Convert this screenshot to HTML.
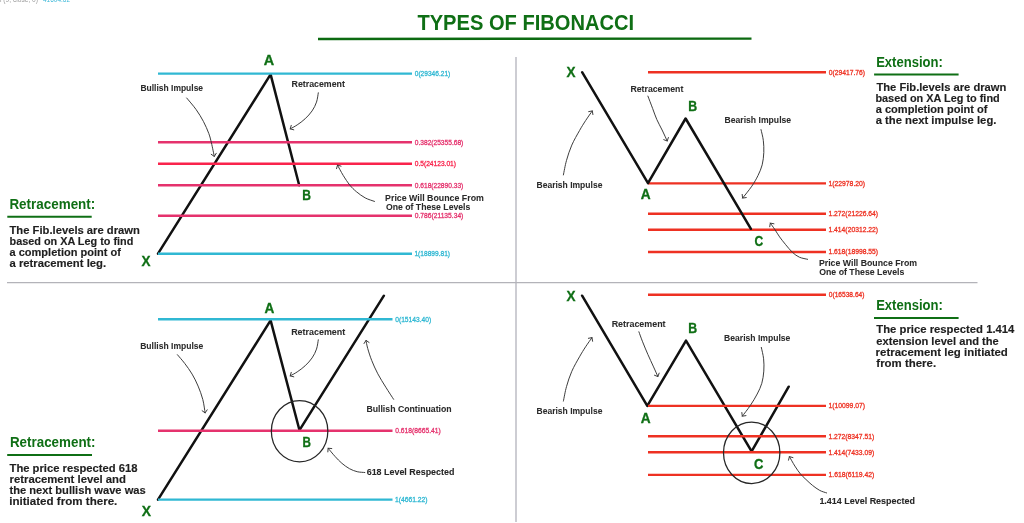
<!DOCTYPE html>
<html><head><meta charset="utf-8"><title>Types of Fibonacci</title>
<style>
html,body{margin:0;padding:0;background:#fff;width:1024px;height:523px;overflow:hidden;}
svg{display:block;font-family:"Liberation Sans", sans-serif;will-change:transform;}
</style></head>
<body>
<svg width="1024" height="523" viewBox="0 0 1024 523">
<rect width="1024" height="523" fill="#ffffff"/>
<text x="0" y="1.8" font-size="8" fill="#9a9a9a" textLength="38" lengthAdjust="spacingAndGlyphs">l (9, close, 0)</text>
<text x="43" y="1.8" font-size="8" fill="#3cb8d8" textLength="27" lengthAdjust="spacingAndGlyphs">41604.62</text>
<text id="title" x="417.40" y="29.9" font-size="22.6" fill="#0f6f15" font-weight="bold" textLength="216.70" lengthAdjust="spacingAndGlyphs">TYPES OF FIBONACCI</text>
<line x1="318" y1="39.0" x2="751.5" y2="38.6" stroke="#0c6a11" stroke-width="2.4" stroke-linecap="butt"/>
<line x1="516" y1="57" x2="516" y2="522" stroke="#cdcdd3" stroke-width="2" stroke-linecap="butt"/>
<line x1="7" y1="282.6" x2="977.5" y2="282.6" stroke="#b3b3b9" stroke-width="1.3" stroke-linecap="butt"/>
<polyline points="158,253.6 270.6,74.4 299.2,185.2" fill="none" stroke="#111111" stroke-width="2.5" stroke-linejoin="round" stroke-linecap="round"/>
<line x1="158" y1="73.6" x2="412" y2="73.6" stroke="#30b8d3" stroke-width="2.4" stroke-linecap="butt"/>
<text id="q1l0" x="414.76" y="75.9" font-size="7.2" fill="#30b8d3" font-weight="normal" stroke="#30b8d3" stroke-width="0.3" textLength="35.52" lengthAdjust="spacingAndGlyphs">0(29346.21)</text>
<line x1="158" y1="142.3" x2="412" y2="142.3" stroke="#e5326d" stroke-width="2.4" stroke-linecap="butt"/>
<text id="q1l1" x="414.76" y="144.6" font-size="7.2" fill="#e5326d" font-weight="normal" stroke="#e5326d" stroke-width="0.3" textLength="48.58" lengthAdjust="spacingAndGlyphs">0.382(25355.68)</text>
<line x1="158" y1="163.75" x2="412" y2="163.75" stroke="#f9234c" stroke-width="2.4" stroke-linecap="butt"/>
<text id="q1l2" x="414.76" y="166.05" font-size="7.2" fill="#f9234c" font-weight="normal" stroke="#f9234c" stroke-width="0.3" textLength="41.26" lengthAdjust="spacingAndGlyphs">0.5(24123.01)</text>
<line x1="158" y1="185.2" x2="412" y2="185.2" stroke="#e5326d" stroke-width="2.4" stroke-linecap="butt"/>
<text id="q1l3" x="414.76" y="187.5" font-size="7.2" fill="#e5326d" font-weight="normal" stroke="#e5326d" stroke-width="0.3" textLength="48.58" lengthAdjust="spacingAndGlyphs">0.618(22890.33)</text>
<line x1="158" y1="215.7" x2="412" y2="215.7" stroke="#e5326d" stroke-width="2.4" stroke-linecap="butt"/>
<text id="q1l4" x="414.76" y="218.0" font-size="7.2" fill="#e5326d" font-weight="normal" stroke="#e5326d" stroke-width="0.3" textLength="48.58" lengthAdjust="spacingAndGlyphs">0.786(21135.34)</text>
<line x1="158" y1="253.7" x2="412" y2="253.7" stroke="#30b8d3" stroke-width="2.4" stroke-linecap="butt"/>
<text id="q1l5" x="414.46" y="256.0" font-size="7.2" fill="#30b8d3" font-weight="normal" stroke="#30b8d3" stroke-width="0.3" textLength="35.56" lengthAdjust="spacingAndGlyphs">1(18899.81)</text>
<text id="q1A" x="263.70" y="64.6" font-size="15.3" fill="#0f6f15" font-weight="bold" stroke="#0f6f15" stroke-width="0.35" textLength="10.40" lengthAdjust="spacingAndGlyphs">A</text>
<text id="q1B" x="302.14" y="200.4" font-size="15.3" fill="#0f6f15" font-weight="bold" stroke="#0f6f15" stroke-width="0.35" textLength="8.70" lengthAdjust="spacingAndGlyphs">B</text>
<text id="q1X" x="141.40" y="266" font-size="15.3" fill="#0f6f15" font-weight="bold" stroke="#0f6f15" stroke-width="0.35" textLength="9.00" lengthAdjust="spacingAndGlyphs">X</text>
<text id="q1bi" x="140.40" y="91.4" font-size="9.2" fill="#2b2b2b" font-weight="bold" stroke="#2b2b2b" stroke-width="0.05" textLength="62.70" lengthAdjust="spacingAndGlyphs">Bullish Impulse</text>
<text id="q1re" x="291.52" y="87.3" font-size="9.2" fill="#2b2b2b" font-weight="bold" stroke="#2b2b2b" stroke-width="0.05" textLength="53.44" lengthAdjust="spacingAndGlyphs">Retracement</text>
<text id="q1p1" x="385.08" y="201" font-size="9.2" fill="#2b2b2b" font-weight="bold" stroke="#2b2b2b" stroke-width="0.05" textLength="98.82" lengthAdjust="spacingAndGlyphs">Price Will Bounce From</text>
<text id="q1p2" x="385.98" y="209.8" font-size="9.2" fill="#2b2b2b" font-weight="bold" stroke="#2b2b2b" stroke-width="0.05" textLength="84.38" lengthAdjust="spacingAndGlyphs">One of These Levels</text>
<path d="M186.70,98.00 C188.25,99.90 193.22,105.50 196.00,109.40 C198.78,113.30 201.27,117.38 203.40,121.40 C205.53,125.42 207.47,129.93 208.80,133.50 C210.13,137.07 210.48,138.98 211.40,142.80 C212.32,146.62 213.82,154.13 214.30,156.40" fill="none" stroke="#333333" stroke-width="0.95" stroke-linecap="round"/>
<polyline points="216.26,153.26 214.3,156.4 211.23,154.33" fill="none" stroke="#333333" stroke-width="0.95" stroke-linecap="round" stroke-linejoin="round"/>
<path d="M318.30,92.80 C318.00,94.35 317.53,99.08 316.50,102.10 C315.47,105.12 314.00,108.12 312.10,110.90 C310.20,113.68 307.58,116.47 305.10,118.80 C302.62,121.13 299.68,123.22 297.20,124.90 C294.72,126.58 291.37,128.23 290.20,128.90" fill="none" stroke="#333333" stroke-width="0.95" stroke-linecap="round"/>
<polyline points="293.79,129.81 290.2,128.9 291.24,125.35" fill="none" stroke="#333333" stroke-width="0.95" stroke-linecap="round" stroke-linejoin="round"/>
<path d="M374.50,201.40 C372.95,200.82 368.22,199.52 365.20,197.90 C362.18,196.28 358.97,193.83 356.40,191.70 C353.83,189.57 352.00,187.82 349.80,185.10 C347.60,182.38 345.25,178.73 343.20,175.40 C341.15,172.07 338.45,166.82 337.50,165.10" fill="none" stroke="#333333" stroke-width="0.95" stroke-linecap="round"/>
<polyline points="336.54,168.67 337.5,165.1 341.04,166.18" fill="none" stroke="#333333" stroke-width="0.95" stroke-linecap="round" stroke-linejoin="round"/>
<text id="q1h" x="9.40" y="209" font-size="13.8" fill="#0f6f15" font-weight="bold" textLength="85.88" lengthAdjust="spacingAndGlyphs">Retracement:</text>
<line x1="7.3" y1="216.8" x2="91.7" y2="216.8" stroke="#0f6f15" stroke-width="2" stroke-linecap="butt"/>
<text id="q1b0" x="9.52" y="233.7" font-size="11" fill="#1f1f1f" font-weight="bold" stroke="#1f1f1f" stroke-width="0.15" textLength="130.38" lengthAdjust="spacingAndGlyphs">The Fib.levels are drawn</text>
<text id="q1b1" x="9.52" y="244.7" font-size="11" fill="#1f1f1f" font-weight="bold" stroke="#1f1f1f" stroke-width="0.15" textLength="123.76" lengthAdjust="spacingAndGlyphs">based on XA Leg to find</text>
<text id="q1b2" x="9.52" y="255.7" font-size="11" fill="#1f1f1f" font-weight="bold" stroke="#1f1f1f" stroke-width="0.15" textLength="111.38" lengthAdjust="spacingAndGlyphs">a completion point of</text>
<text id="q1b3" x="9.52" y="266.7" font-size="11" fill="#1f1f1f" font-weight="bold" stroke="#1f1f1f" stroke-width="0.15" textLength="96.56" lengthAdjust="spacingAndGlyphs">a retracement leg.</text>
<line x1="648" y1="72.2" x2="826" y2="72.2" stroke="#ee3122" stroke-width="2.4" stroke-linecap="butt"/>
<text id="q2l0" x="828.76" y="74.5" font-size="7.2" fill="#ee3122" font-weight="normal" stroke="#ee3122" stroke-width="0.3" textLength="36.34" lengthAdjust="spacingAndGlyphs">0(29417.76)</text>
<line x1="648" y1="183.4" x2="826" y2="183.4" stroke="#ee3122" stroke-width="2.4" stroke-linecap="butt"/>
<text id="q2l1" x="828.46" y="185.7" font-size="7.2" fill="#ee3122" font-weight="normal" stroke="#ee3122" stroke-width="0.3" textLength="36.64" lengthAdjust="spacingAndGlyphs">1(22978.20)</text>
<line x1="648" y1="213.8" x2="826" y2="213.8" stroke="#ee3122" stroke-width="2.4" stroke-linecap="butt"/>
<text id="q2l2" x="828.46" y="216.1" font-size="7.2" fill="#ee3122" font-weight="normal" stroke="#ee3122" stroke-width="0.3" textLength="49.64" lengthAdjust="spacingAndGlyphs">1.272(21226.64)</text>
<line x1="648" y1="229.8" x2="826" y2="229.8" stroke="#ee3122" stroke-width="2.4" stroke-linecap="butt"/>
<text id="q2l3" x="828.46" y="232.1" font-size="7.2" fill="#ee3122" font-weight="normal" stroke="#ee3122" stroke-width="0.3" textLength="49.64" lengthAdjust="spacingAndGlyphs">1.414(20312.22)</text>
<line x1="648" y1="252.0" x2="826" y2="252.0" stroke="#ee3122" stroke-width="2.4" stroke-linecap="butt"/>
<text id="q2l4" x="828.46" y="254.3" font-size="7.2" fill="#ee3122" font-weight="normal" stroke="#ee3122" stroke-width="0.3" textLength="49.64" lengthAdjust="spacingAndGlyphs">1.618(18998.55)</text>
<polyline points="582.1,72.2 648,183.2 685.6,118.5 750.9,228.8" fill="none" stroke="#111111" stroke-width="2.5" stroke-linejoin="round" stroke-linecap="round"/>
<text id="q2X" x="566.40" y="76.5" font-size="15.3" fill="#0f6f15" font-weight="bold" stroke="#0f6f15" stroke-width="0.35" textLength="9.02" lengthAdjust="spacingAndGlyphs">X</text>
<text id="q2A" x="640.70" y="199" font-size="15.3" fill="#0f6f15" font-weight="bold" stroke="#0f6f15" stroke-width="0.35" textLength="9.90" lengthAdjust="spacingAndGlyphs">A</text>
<text id="q2B" x="688.28" y="110.7" font-size="15.3" fill="#0f6f15" font-weight="bold" stroke="#0f6f15" stroke-width="0.35" textLength="8.88" lengthAdjust="spacingAndGlyphs">B</text>
<text id="q2C" x="754.60" y="246" font-size="15.3" fill="#0f6f15" font-weight="bold" stroke="#0f6f15" stroke-width="0.35" textLength="8.68" lengthAdjust="spacingAndGlyphs">C</text>
<text id="q2re" x="630.40" y="91.7" font-size="9.2" fill="#2b2b2b" font-weight="bold" stroke="#2b2b2b" stroke-width="0.05" textLength="53.00" lengthAdjust="spacingAndGlyphs">Retracement</text>
<text id="q2bl" x="536.52" y="187.9" font-size="9.2" fill="#2b2b2b" font-weight="bold" stroke="#2b2b2b" stroke-width="0.05" textLength="65.88" lengthAdjust="spacingAndGlyphs">Bearish Impulse</text>
<text id="q2br" x="724.46" y="122.9" font-size="9.2" fill="#2b2b2b" font-weight="bold" stroke="#2b2b2b" stroke-width="0.05" textLength="66.70" lengthAdjust="spacingAndGlyphs">Bearish Impulse</text>
<text id="q2p1" x="818.90" y="266.4" font-size="9.2" fill="#2b2b2b" font-weight="bold" stroke="#2b2b2b" stroke-width="0.05" textLength="98.26" lengthAdjust="spacingAndGlyphs">Price Will Bounce From</text>
<text id="q2p2" x="819.20" y="274.7" font-size="9.2" fill="#2b2b2b" font-weight="bold" stroke="#2b2b2b" stroke-width="0.05" textLength="85.20" lengthAdjust="spacingAndGlyphs">One of These Levels</text>
<path d="M647.90,96.10 C648.68,98.15 651.12,104.50 652.60,108.40 C654.08,112.30 655.22,115.90 656.80,119.50 C658.38,123.10 660.37,126.42 662.10,130.00 C663.83,133.58 666.35,139.17 667.20,141.00" fill="none" stroke="#333333" stroke-width="0.95" stroke-linecap="round"/>
<polyline points="668.41,137.50 667.2,141 663.75,139.67" fill="none" stroke="#333333" stroke-width="0.95" stroke-linecap="round" stroke-linejoin="round"/>
<path d="M563.40,174.90 C563.92,172.48 565.10,165.37 566.50,160.40 C567.90,155.43 569.63,150.07 571.80,145.10 C573.97,140.13 577.20,134.68 579.50,130.60 C581.80,126.52 583.47,123.88 585.60,120.60 C587.73,117.32 591.18,112.52 592.30,110.90" fill="none" stroke="#333333" stroke-width="0.95" stroke-linecap="round"/>
<polyline points="588.67,111.63 592.3,110.9 592.90,114.55" fill="none" stroke="#333333" stroke-width="0.95" stroke-linecap="round" stroke-linejoin="round"/>
<path d="M761.00,129.60 C761.38,131.38 762.83,136.48 763.30,140.30 C763.77,144.12 763.98,148.42 763.80,152.50 C763.62,156.58 763.17,160.97 762.20,164.80 C761.23,168.63 759.73,171.93 758.00,175.50 C756.27,179.07 754.37,182.43 751.80,186.20 C749.23,189.97 744.13,196.12 742.60,198.10" fill="none" stroke="#333333" stroke-width="0.95" stroke-linecap="round"/>
<polyline points="746.26,197.57 742.6,198.1 742.19,194.42" fill="none" stroke="#333333" stroke-width="0.95" stroke-linecap="round" stroke-linejoin="round"/>
<path d="M807.60,259.30 C806.23,258.95 801.92,258.35 799.40,257.20 C796.88,256.05 794.78,254.48 792.50,252.40 C790.22,250.32 787.85,247.28 785.70,244.70 C783.55,242.12 781.40,239.42 779.60,236.90 C777.80,234.38 776.45,231.90 774.90,229.60 C773.35,227.30 771.07,224.18 770.30,223.10" fill="none" stroke="#333333" stroke-width="0.95" stroke-linecap="round"/>
<polyline points="769.74,226.76 770.3,223.1 773.94,223.79" fill="none" stroke="#333333" stroke-width="0.95" stroke-linecap="round" stroke-linejoin="round"/>
<text id="q2h" x="876.14" y="66.5" font-size="13.8" fill="#0f6f15" font-weight="bold" textLength="66.70" lengthAdjust="spacingAndGlyphs">Extension:</text>
<line x1="874.1" y1="74.6" x2="958.6" y2="74.6" stroke="#0f6f15" stroke-width="2" stroke-linecap="butt"/>
<text id="q2b0" x="876.40" y="90.8" font-size="11" fill="#1f1f1f" font-weight="bold" stroke="#1f1f1f" stroke-width="0.15" textLength="129.94" lengthAdjust="spacingAndGlyphs">The Fib.levels are drawn</text>
<text id="q2b1" x="875.40" y="101.9" font-size="11" fill="#1f1f1f" font-weight="bold" stroke="#1f1f1f" stroke-width="0.15" textLength="124.32" lengthAdjust="spacingAndGlyphs">based on XA Leg to find</text>
<text id="q2b2" x="875.70" y="113.0" font-size="11" fill="#1f1f1f" font-weight="bold" stroke="#1f1f1f" stroke-width="0.15" textLength="111.76" lengthAdjust="spacingAndGlyphs">a completion point of</text>
<text id="q2b3" x="875.70" y="124.1" font-size="11" fill="#1f1f1f" font-weight="bold" stroke="#1f1f1f" stroke-width="0.15" textLength="120.70" lengthAdjust="spacingAndGlyphs">a the next impulse leg.</text>
<polyline points="158,499.6 270.6,320.4 299.5,430.2 383.9,295.7" fill="none" stroke="#111111" stroke-width="2.5" stroke-linejoin="round" stroke-linecap="round"/>
<line x1="158" y1="319.3" x2="392.5" y2="319.3" stroke="#30b8d3" stroke-width="2.4" stroke-linecap="butt"/>
<text id="q3l0" x="395.26" y="321.6" font-size="7.2" fill="#30b8d3" font-weight="normal" stroke="#30b8d3" stroke-width="0.3" textLength="35.84" lengthAdjust="spacingAndGlyphs">0(15143.40)</text>
<line x1="158" y1="430.8" x2="392.5" y2="430.8" stroke="#e5326d" stroke-width="2.4" stroke-linecap="butt"/>
<text id="q3l1" x="395.26" y="433.1" font-size="7.2" fill="#e5326d" font-weight="normal" stroke="#e5326d" stroke-width="0.3" textLength="45.52" lengthAdjust="spacingAndGlyphs">0.618(8665.41)</text>
<line x1="158" y1="499.6" x2="392.5" y2="499.6" stroke="#30b8d3" stroke-width="2.4" stroke-linecap="butt"/>
<text id="q3l2" x="394.96" y="501.9" font-size="7.2" fill="#30b8d3" font-weight="normal" stroke="#30b8d3" stroke-width="0.3" textLength="32.64" lengthAdjust="spacingAndGlyphs">1(4661.22)</text>
<text id="q3A" x="264.58" y="312.9" font-size="15.3" fill="#0f6f15" font-weight="bold" stroke="#0f6f15" stroke-width="0.35" textLength="9.82" lengthAdjust="spacingAndGlyphs">A</text>
<text id="q3B" x="302.46" y="446.6" font-size="15.3" fill="#0f6f15" font-weight="bold" stroke="#0f6f15" stroke-width="0.35" textLength="8.44" lengthAdjust="spacingAndGlyphs">B</text>
<text id="q3X" x="141.84" y="516.2" font-size="15.3" fill="#0f6f15" font-weight="bold" stroke="#0f6f15" stroke-width="0.35" textLength="9.26" lengthAdjust="spacingAndGlyphs">X</text>
<text id="q3bi" x="140.14" y="348.6" font-size="9.2" fill="#2b2b2b" font-weight="bold" stroke="#2b2b2b" stroke-width="0.05" textLength="63.20" lengthAdjust="spacingAndGlyphs">Bullish Impulse</text>
<text id="q3re" x="291.14" y="334.5" font-size="9.2" fill="#2b2b2b" font-weight="bold" stroke="#2b2b2b" stroke-width="0.05" textLength="54.14" lengthAdjust="spacingAndGlyphs">Retracement</text>
<text id="q3bc" x="366.40" y="412.3" font-size="9.2" fill="#2b2b2b" font-weight="bold" stroke="#2b2b2b" stroke-width="0.05" textLength="85.26" lengthAdjust="spacingAndGlyphs">Bullish Continuation</text>
<text id="q3lr" x="366.70" y="475.4" font-size="9.9" fill="#262626" font-weight="bold" stroke="#262626" stroke-width="0.08" textLength="87.70" lengthAdjust="spacingAndGlyphs">618 Level Respected</text>
<ellipse cx="299.6" cy="431.15" rx="28.25" ry="30.65" fill="none" stroke="#262626" stroke-width="1.25"/>
<path d="M177.40,354.70 C178.62,356.15 182.25,360.17 184.70,363.40 C187.15,366.63 189.87,370.32 192.10,374.10 C194.33,377.88 196.32,381.87 198.10,386.10 C199.88,390.33 201.63,395.03 202.80,399.50 C203.97,403.97 204.72,410.67 205.10,412.90" fill="none" stroke="#333333" stroke-width="0.95" stroke-linecap="round"/>
<polyline points="207.18,409.84 205.1,412.9 202.12,410.71" fill="none" stroke="#333333" stroke-width="0.95" stroke-linecap="round" stroke-linejoin="round"/>
<path d="M318.30,339.80 C318.00,341.35 317.53,346.08 316.50,349.10 C315.47,352.12 314.00,355.12 312.10,357.90 C310.20,360.68 307.58,363.47 305.10,365.80 C302.62,368.13 299.68,370.22 297.20,371.90 C294.72,373.58 291.37,375.23 290.20,375.90" fill="none" stroke="#333333" stroke-width="0.95" stroke-linecap="round"/>
<polyline points="293.79,376.81 290.2,375.9 291.24,372.35" fill="none" stroke="#333333" stroke-width="0.95" stroke-linecap="round" stroke-linejoin="round"/>
<path d="M393.60,399.30 C392.30,397.28 388.43,391.45 385.80,387.20 C383.17,382.95 380.15,378.27 377.80,373.80 C375.45,369.33 373.38,364.63 371.70,360.40 C370.02,356.17 368.65,351.73 367.70,348.40 C366.75,345.07 366.28,341.73 366.00,340.40" fill="none" stroke="#333333" stroke-width="0.95" stroke-linecap="round"/>
<polyline points="364.04,343.54 366,340.4 369.07,342.47" fill="none" stroke="#333333" stroke-width="0.95" stroke-linecap="round" stroke-linejoin="round"/>
<path d="M364.80,472.50 C363.53,472.37 359.75,472.33 357.20,471.70 C354.65,471.07 352.05,470.10 349.50,468.70 C346.95,467.30 344.32,465.35 341.90,463.30 C339.48,461.25 337.30,458.92 335.00,456.40 C332.70,453.88 329.25,449.57 328.10,448.20" fill="none" stroke="#333333" stroke-width="0.95" stroke-linecap="round"/>
<polyline points="327.85,451.89 328.1,448.2 331.78,448.58" fill="none" stroke="#333333" stroke-width="0.95" stroke-linecap="round" stroke-linejoin="round"/>
<text id="q3h" x="9.96" y="446.5" font-size="13.8" fill="#0f6f15" font-weight="bold" textLength="85.56" lengthAdjust="spacingAndGlyphs">Retracement:</text>
<line x1="7.2" y1="455.1" x2="92" y2="455.1" stroke="#0f6f15" stroke-width="2" stroke-linecap="butt"/>
<text id="q3b0" x="9.52" y="471.7" font-size="11" fill="#1f1f1f" font-weight="bold" stroke="#1f1f1f" stroke-width="0.15" textLength="128.00" lengthAdjust="spacingAndGlyphs">The price respected 618</text>
<text id="q3b1" x="9.52" y="482.7" font-size="11" fill="#1f1f1f" font-weight="bold" stroke="#1f1f1f" stroke-width="0.15" textLength="116.44" lengthAdjust="spacingAndGlyphs">retracement level and</text>
<text id="q3b2" x="9.52" y="493.7" font-size="11" fill="#1f1f1f" font-weight="bold" stroke="#1f1f1f" stroke-width="0.15" textLength="136.20" lengthAdjust="spacingAndGlyphs">the next bullish wave was</text>
<text id="q3b3" x="9.22" y="504.7" font-size="11" fill="#1f1f1f" font-weight="bold" stroke="#1f1f1f" stroke-width="0.15" textLength="108.12" lengthAdjust="spacingAndGlyphs">initiated from there.</text>
<polyline points="582.1,295.7 647.3,405.9 686,340.6 751.6,451.4 788.7,386.7" fill="none" stroke="#111111" stroke-width="2.5" stroke-linejoin="round" stroke-linecap="round"/>
<line x1="648" y1="294.8" x2="826" y2="294.8" stroke="#ee3122" stroke-width="2.4" stroke-linecap="butt"/>
<text id="q4l0" x="828.76" y="297.1" font-size="7.2" fill="#ee3122" font-weight="normal" stroke="#ee3122" stroke-width="0.3" textLength="35.70" lengthAdjust="spacingAndGlyphs">0(16538.64)</text>
<line x1="648" y1="405.9" x2="826" y2="405.9" stroke="#ee3122" stroke-width="2.4" stroke-linecap="butt"/>
<text id="q4l1" x="828.46" y="408.2" font-size="7.2" fill="#ee3122" font-weight="normal" stroke="#ee3122" stroke-width="0.3" textLength="36.64" lengthAdjust="spacingAndGlyphs">1(10099.07)</text>
<line x1="648" y1="436.3" x2="826" y2="436.3" stroke="#ee3122" stroke-width="2.4" stroke-linecap="butt"/>
<text id="q4l2" x="828.46" y="438.6" font-size="7.2" fill="#ee3122" font-weight="normal" stroke="#ee3122" stroke-width="0.3" textLength="45.82" lengthAdjust="spacingAndGlyphs">1.272(8347.51)</text>
<line x1="648" y1="452.3" x2="826" y2="452.3" stroke="#ee3122" stroke-width="2.4" stroke-linecap="butt"/>
<text id="q4l3" x="828.46" y="454.6" font-size="7.2" fill="#ee3122" font-weight="normal" stroke="#ee3122" stroke-width="0.3" textLength="45.82" lengthAdjust="spacingAndGlyphs">1.414(7433.09)</text>
<line x1="648" y1="474.9" x2="826" y2="474.9" stroke="#ee3122" stroke-width="2.4" stroke-linecap="butt"/>
<text id="q4l4" x="828.46" y="477.2" font-size="7.2" fill="#ee3122" font-weight="normal" stroke="#ee3122" stroke-width="0.3" textLength="45.82" lengthAdjust="spacingAndGlyphs">1.618(6119.42)</text>
<text id="q4X" x="566.40" y="301.2" font-size="15.3" fill="#0f6f15" font-weight="bold" stroke="#0f6f15" stroke-width="0.35" textLength="9.02" lengthAdjust="spacingAndGlyphs">X</text>
<text id="q4A" x="640.70" y="423.1" font-size="15.3" fill="#0f6f15" font-weight="bold" stroke="#0f6f15" stroke-width="0.35" textLength="9.90" lengthAdjust="spacingAndGlyphs">A</text>
<text id="q4B" x="688.28" y="332.8" font-size="15.3" fill="#0f6f15" font-weight="bold" stroke="#0f6f15" stroke-width="0.35" textLength="8.88" lengthAdjust="spacingAndGlyphs">B</text>
<text id="q4C" x="753.96" y="468.5" font-size="15.3" fill="#0f6f15" font-weight="bold" stroke="#0f6f15" stroke-width="0.35" textLength="9.38" lengthAdjust="spacingAndGlyphs">C</text>
<text id="q4re" x="611.64" y="327" font-size="9.2" fill="#2b2b2b" font-weight="bold" stroke="#2b2b2b" stroke-width="0.05" textLength="53.96" lengthAdjust="spacingAndGlyphs">Retracement</text>
<text id="q4bl" x="536.52" y="414" font-size="9.2" fill="#2b2b2b" font-weight="bold" stroke="#2b2b2b" stroke-width="0.05" textLength="65.88" lengthAdjust="spacingAndGlyphs">Bearish Impulse</text>
<text id="q4br" x="724.08" y="341" font-size="9.2" fill="#2b2b2b" font-weight="bold" stroke="#2b2b2b" stroke-width="0.05" textLength="66.26" lengthAdjust="spacingAndGlyphs">Bearish Impulse</text>
<text id="q4lr" x="819.40" y="504" font-size="9.9" fill="#262626" font-weight="bold" stroke="#262626" stroke-width="0.08" textLength="95.50" lengthAdjust="spacingAndGlyphs">1.414 Level Respected</text>
<ellipse cx="751.7" cy="452.75" rx="28.2" ry="30.75" fill="none" stroke="#262626" stroke-width="1.25"/>
<path d="M638.90,331.80 C639.52,333.47 641.10,338.02 642.60,341.80 C644.10,345.58 646.13,350.45 647.90,354.50 C649.67,358.55 651.53,362.42 653.20,366.10 C654.87,369.78 657.12,374.85 657.90,376.60" fill="none" stroke="#333333" stroke-width="0.95" stroke-linecap="round"/>
<polyline points="659.16,373.12 657.9,376.6 654.47,375.22" fill="none" stroke="#333333" stroke-width="0.95" stroke-linecap="round" stroke-linejoin="round"/>
<path d="M563.40,401.10 C563.92,398.68 565.10,391.57 566.50,386.60 C567.90,381.63 569.63,376.27 571.80,371.30 C573.97,366.33 577.20,360.88 579.50,356.80 C581.80,352.72 583.52,350.00 585.60,346.80 C587.68,343.60 590.93,339.13 592.00,337.60" fill="none" stroke="#333333" stroke-width="0.95" stroke-linecap="round"/>
<polyline points="588.37,338.32 592,337.6 592.59,341.25" fill="none" stroke="#333333" stroke-width="0.95" stroke-linecap="round" stroke-linejoin="round"/>
<path d="M761.30,347.40 C761.68,349.30 763.18,354.85 763.60,358.80 C764.02,362.75 764.10,367.02 763.80,371.10 C763.50,375.18 762.90,379.48 761.80,383.30 C760.70,387.12 759.12,390.30 757.20,394.00 C755.28,397.70 752.78,401.80 750.30,405.50 C747.82,409.20 743.63,414.42 742.30,416.20" fill="none" stroke="#333333" stroke-width="0.95" stroke-linecap="round"/>
<polyline points="745.95,415.61 742.3,416.2 741.84,412.53" fill="none" stroke="#333333" stroke-width="0.95" stroke-linecap="round" stroke-linejoin="round"/>
<path d="M826.60,492.90 C825.45,492.48 822.07,491.67 819.70,490.40 C817.33,489.13 814.70,487.13 812.40,485.30 C810.10,483.47 807.90,481.30 805.90,479.40 C803.90,477.50 802.23,476.12 800.40,473.90 C798.57,471.68 796.73,468.98 794.90,466.10 C793.07,463.22 790.32,458.18 789.40,456.60" fill="none" stroke="#333333" stroke-width="0.95" stroke-linecap="round"/>
<polyline points="788.51,460.19 789.4,456.6 792.96,457.62" fill="none" stroke="#333333" stroke-width="0.95" stroke-linecap="round" stroke-linejoin="round"/>
<text id="q4h" x="876.14" y="309.6" font-size="13.8" fill="#0f6f15" font-weight="bold" textLength="66.70" lengthAdjust="spacingAndGlyphs">Extension:</text>
<line x1="874" y1="318" x2="958.6" y2="318" stroke="#0f6f15" stroke-width="2" stroke-linecap="butt"/>
<text id="q4b0" x="876.34" y="333.4" font-size="11" fill="#1f1f1f" font-weight="bold" stroke="#1f1f1f" stroke-width="0.15" textLength="138.06" lengthAdjust="spacingAndGlyphs">The price respected 1.414</text>
<text id="q4b1" x="876.34" y="344.5" font-size="11" fill="#1f1f1f" font-weight="bold" stroke="#1f1f1f" stroke-width="0.15" textLength="122.44" lengthAdjust="spacingAndGlyphs">extension level and the</text>
<text id="q4b2" x="875.64" y="355.6" font-size="11" fill="#1f1f1f" font-weight="bold" stroke="#1f1f1f" stroke-width="0.15" textLength="132.20" lengthAdjust="spacingAndGlyphs">retracement leg initiated</text>
<text id="q4b3" x="876.34" y="366.7" font-size="11" fill="#1f1f1f" font-weight="bold" stroke="#1f1f1f" stroke-width="0.15" textLength="59.74" lengthAdjust="spacingAndGlyphs">from there.</text>
</svg>
</body></html>
